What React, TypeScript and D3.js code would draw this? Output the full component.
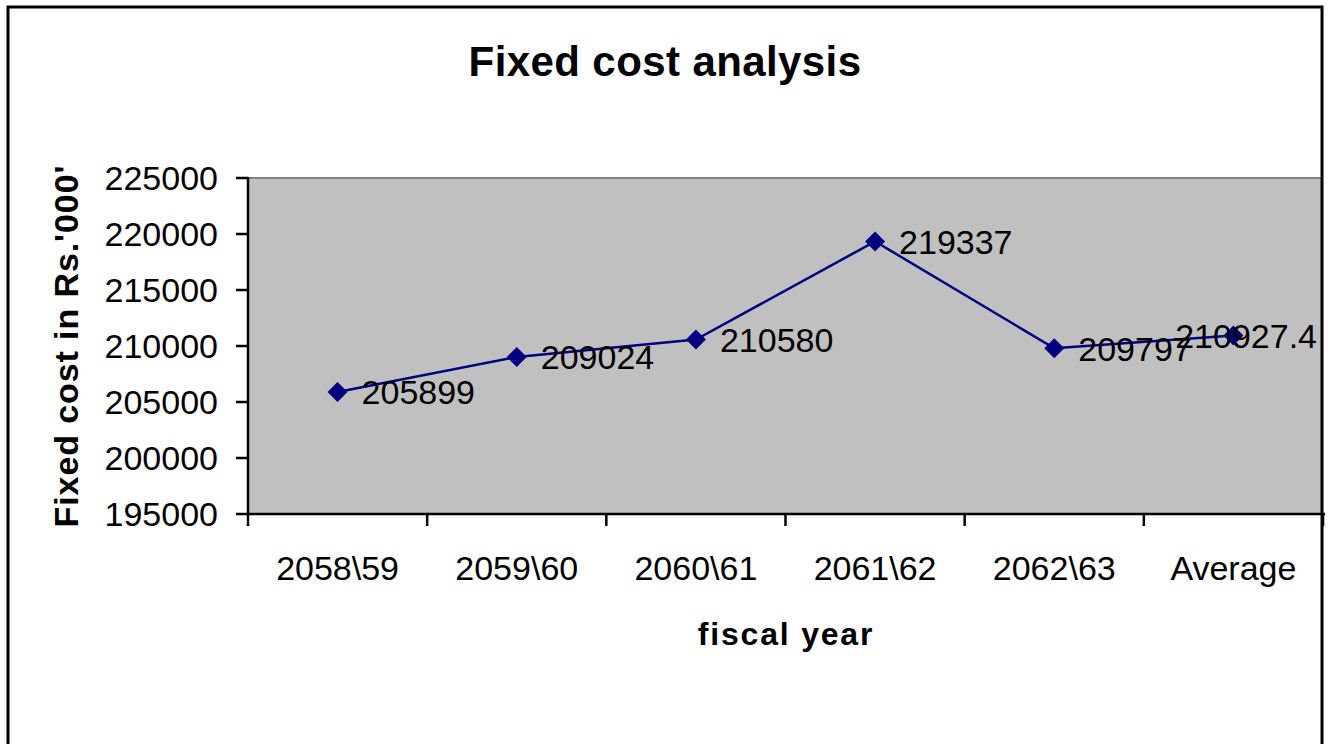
import React from "react";
import * as d3 from "d3";

// Fiscal years on the category axis
const categories: string[] = ["2058\\59", "2059\\60", "2060\\61", "2061\\62", "2062\\63", "Average"];
// Fixed cost in Rs. '000
const fixedCost: number[] = [205899, 209024, 210580, 219337, 209797, 210927.4];
// Value axis ticks
const yTicks: number[] = [195000, 200000, 205000, 210000, 215000, 220000, 225000];

const W = 1333;
const H = 744;
const plot = { left: 248, right: 1323, top: 178, bottom: 514 };
const FONT = "'Liberation Sans', Arial, Helvetica, sans-serif";
const NAVY = "#000080";

export default function App() {
  const x = d3.scaleBand<string>().domain(categories).range([plot.left, plot.right]);
  const y = d3.scaleLinear().domain([yTicks[0], yTicks[yTicks.length - 1]]).range([plot.bottom, plot.top]);
  const cx = (c: string) => (x(c) as number) + x.bandwidth() / 2;

  const points = categories.map((c, i) => ({ c, v: fixedCost[i], px: cx(c), py: y(fixedCost[i]) }));
  const linePath = d3.line<{ px: number; py: number }>().x((d) => d.px).y((d) => d.py)(points) || "";
  const marker = d3.symbol().type(d3.symbolSquare).size(200)() || "";

  const xTickPos = [...categories.map((c) => x(c) as number), plot.right];
  const labelSize = 34;

  return (
    <svg
      width={W}
      height={H}
      style={{ position: "absolute", left: 0, top: 0, display: "block", background: "#fff" }}
      fontFamily={FONT}
    >
      {/* plot area */}
      <rect x={plot.left} y={plot.top} width={plot.right - plot.left} height={plot.bottom - plot.top} fill="#c0c0c0" />
      <line x1={plot.left} x2={plot.right} y1={plot.top} y2={plot.top} stroke="#808080" strokeWidth={2} />

      {/* value axis */}
      <line x1={plot.left} x2={plot.left} y1={plot.top - 1} y2={plot.bottom + 1} stroke="#000" strokeWidth={2.5} />
      {yTicks.map((t) => (
        <g key={t}>
          <line x1={plot.left - 12} x2={plot.left} y1={y(t)} y2={y(t)} stroke="#000" strokeWidth={2.5} />
          <text x={218} y={y(t)} dy="0.36em" textAnchor="end" fontSize={labelSize} fill="#000">
            {t}
          </text>
        </g>
      ))}

      {/* category axis */}
      <line x1={plot.left} x2={plot.right + 2} y1={plot.bottom} y2={plot.bottom} stroke="#000" strokeWidth={2.5} />
      {xTickPos.map((p, i) => (
        <line key={i} x1={p} x2={p} y1={plot.bottom} y2={plot.bottom + 12} stroke="#000" strokeWidth={2.5} />
      ))}
      {categories.map((c) => (
        <text key={c} x={cx(c)} y={580} textAnchor="middle" fontSize={labelSize} fill="#000">
          {c}
        </text>
      ))}

      {/* series */}
      <path d={linePath} fill="none" stroke={NAVY} strokeWidth={2.5} />
      {points.map((p) => (
        <path key={p.c} d={marker} transform={`translate(${p.px},${p.py}) rotate(45)`} fill={NAVY} />
      ))}
      {points.map((p) => {
        const label = String(p.v);
        const estWidth = label.length * 0.556 * labelSize;
        const overflow = p.px + 24 + estWidth > plot.right;
        return (
          <text
            key={p.c}
            x={overflow ? plot.right - 6 : p.px + 24}
            y={p.py}
            dy="0.36em"
            textAnchor={overflow ? "end" : "start"}
            fontSize={labelSize}
            fill="#000"
          >
            {label}
          </text>
        );
      })}

      {/* titles */}
      <text x={665} y={76} textAnchor="middle" fontSize={42} fontWeight="bold" letterSpacing={0.4} fill="#000">
        Fixed cost analysis
      </text>
      <text
        transform={`translate(78,346) rotate(-90)`}
        textAnchor="middle"
        fontSize={34}
        fontWeight="bold"
        letterSpacing={0.9}
        fill="#000"
      >
        Fixed cost in Rs.'000'
      </text>
      <text x={786} y={645} textAnchor="middle" fontSize={32} fontWeight="bold" letterSpacing={1.8} fill="#000">
        fiscal year
      </text>

      {/* chart frame */}
      <rect x={8} y={7} width={1314} height={H + 20} fill="none" stroke="#000" strokeWidth={3} />
    </svg>
  );
}
